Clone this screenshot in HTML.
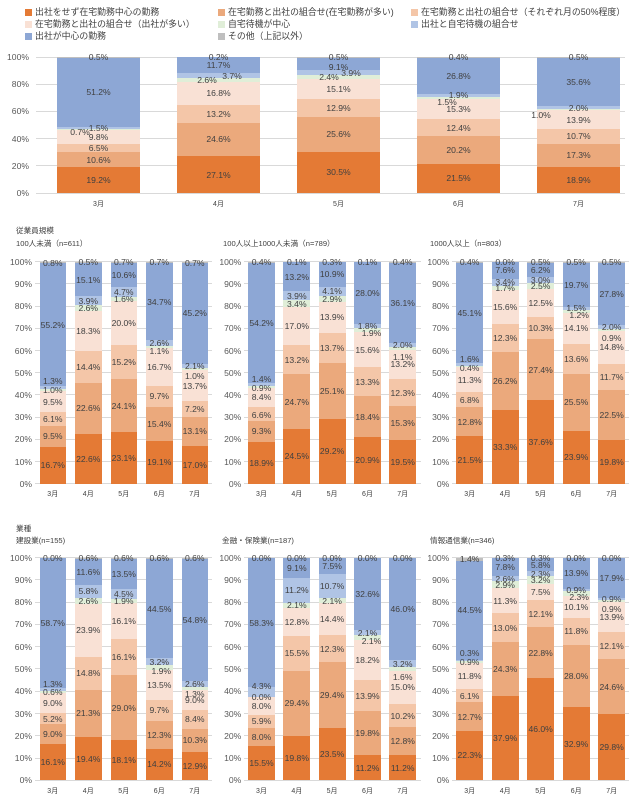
<!DOCTYPE html>
<html><head><meta charset="utf-8">
<style>
body{margin:0;width:640px;height:800px;background:#fff;position:relative;overflow:hidden;font-family:"Liberation Sans","Noto Sans CJK JP",sans-serif;color:#404040}
.a{background:#E47A35}.b{background:#EBA97C}.c{background:#F4C6A8}.d{background:#F9E1D5}
.e{background:#E0EED8}.f{background:#B0C4E5}.g{background:#8DA7D5}.h{background:#BFBFBF}
.lg{position:absolute;font-size:8.9px;line-height:12px;white-space:nowrap;color:#404040}
.lg i{position:absolute;left:-10.5px;top:2.5px;width:7px;height:7px}
.t{position:absolute;font-size:7.6px;line-height:10px;white-space:nowrap;color:#404040}
.p{position:absolute;left:0;width:640px}
.gs{position:absolute;top:0;bottom:0}
.gs div{position:absolute;left:0;right:0;height:1px;background:#D9D9D9;margin-bottom:-0.5px}
.ys{position:absolute;top:0;bottom:0}
.ys div{position:absolute;right:0;font-size:8.6px;line-height:10px;transform:translateY(50%);color:#595959;white-space:nowrap}
.bar{position:absolute;top:0;bottom:0;display:flex;flex-direction:column-reverse}
.bar>div{flex:1 1 0;min-height:0;display:flex;align-items:center;justify-content:center}
.bar span{position:relative;white-space:nowrap;font-size:8.6px;line-height:10px;height:10px;display:block;color:#404040}
.bar b{position:absolute;top:calc(100% + 6.5px);left:-10px;right:-10px;text-align:center;font-size:7px;line-height:10px;font-weight:normal;color:#404040}
</style></head><body>

<!-- Legend -->
<div class="lg" style="left:35px;top:6px"><i class="a"></i>出社をせず在宅勤務中心の勤務</div>
<div class="lg" style="left:228px;top:6px"><i class="b"></i>在宅勤務と出社の組合せ(在宅勤務が多い)</div>
<div class="lg" style="left:421px;top:6px"><i class="c"></i>在宅勤務と出社の組合せ（それぞれ月の50%程度）</div>
<div class="lg" style="left:35px;top:18px"><i class="d"></i>在宅勤務と出社の組合せ（出社が多い）</div>
<div class="lg" style="left:228px;top:18px"><i class="e"></i>自宅待機が中心</div>
<div class="lg" style="left:421px;top:18px"><i class="f"></i>出社と自宅待機の組合せ</div>
<div class="lg" style="left:35px;top:30px"><i class="g"></i>出社が中心の勤務</div>
<div class="lg" style="left:228px;top:30px"><i class="h"></i>その他（上記以外）</div>

<!-- Top chart -->
<div class="p" style="top:57px;height:136px">
 <div class="gs" style="left:36px;width:589px"><div style="bottom:0%"></div><div style="bottom:20%"></div><div style="bottom:40%"></div><div style="bottom:60%"></div><div style="bottom:80%"></div><div style="bottom:100%"></div></div>
 <div class="ys" style="left:0;width:29px"><div style="bottom:0%">0%</div><div style="bottom:20%">20%</div><div style="bottom:40%">40%</div><div style="bottom:60%">60%</div><div style="bottom:80%">80%</div><div style="bottom:100%">100%</div></div>
 <div class="bar" style="left:57px;width:83px"><b>3月</b>
  <div class="a" style="flex-grow:19.2"><span>19.2%</span></div><div class="b" style="flex-grow:10.6"><span>10.6%</span></div><div class="c" style="flex-grow:6.5"><span>6.5%</span></div><div class="d" style="flex-grow:9.8"><span>9.8%</span></div><div class="e" style="flex-grow:0.7"><span style="left:-18.5px;top:2px">0.7%</span></div><div class="f" style="flex-grow:1.5"><span>1.5%</span></div><div class="g" style="flex-grow:51.2"><span>51.2%</span></div><div class="h" style="flex-grow:0.5"><span>0.5%</span></div></div>
 <div class="bar" style="left:177px;width:83px"><b>4月</b>
  <div class="a" style="flex-grow:27.1"><span>27.1%</span></div><div class="b" style="flex-grow:24.6"><span>24.6%</span></div><div class="c" style="flex-grow:13.2"><span>13.2%</span></div><div class="d" style="flex-grow:16.8"><span>16.8%</span></div><div class="e" style="flex-grow:2.6"><span style="left:-11.5px">2.6%</span></div><div class="f" style="flex-grow:3.7"><span style="left:13.5px">3.7%</span></div><div class="g" style="flex-grow:11.7"><span>11.7%</span></div><div class="h" style="flex-grow:0.2"><span>0.2%</span></div></div>
 <div class="bar" style="left:297px;width:83px"><b>5月</b>
  <div class="a" style="flex-grow:30.5"><span>30.5%</span></div><div class="b" style="flex-grow:25.6"><span>25.6%</span></div><div class="c" style="flex-grow:12.9"><span>12.9%</span></div><div class="d" style="flex-grow:15.1"><span>15.1%</span></div><div class="e" style="flex-grow:2.4"><span style="left:-9.5px">2.4%</span></div><div class="f" style="flex-grow:3.9"><span style="left:12.5px">3.9%</span></div><div class="g" style="flex-grow:9.1"><span style="top:3px">9.1%</span></div><div class="h" style="flex-grow:0.5"><span>0.5%</span></div></div>
 <div class="bar" style="left:417px;width:83px"><b>6月</b>
  <div class="a" style="flex-grow:21.5"><span>21.5%</span></div><div class="b" style="flex-grow:20.2"><span>20.2%</span></div><div class="c" style="flex-grow:12.4"><span>12.4%</span></div><div class="d" style="flex-grow:15.3"><span>15.3%</span></div><div class="e" style="flex-grow:1.5"><span style="left:-11.5px;top:4px">1.5%</span></div><div class="f" style="flex-grow:1.9"><span>1.9%</span></div><div class="g" style="flex-grow:26.8"><span>26.8%</span></div><div class="h" style="flex-grow:0.4"><span>0.4%</span></div></div>
 <div class="bar" style="left:537px;width:83px"><b>7月</b>
  <div class="a" style="flex-grow:18.9"><span>18.9%</span></div><div class="b" style="flex-grow:17.3"><span>17.3%</span></div><div class="c" style="flex-grow:10.7"><span>10.7%</span></div><div class="d" style="flex-grow:13.9"><span>13.9%</span></div><div class="e" style="flex-grow:1.0"><span style="left:-37.5px;top:5.5px">1.0%</span></div><div class="f" style="flex-grow:2.0"><span>2.0%</span></div><div class="g" style="flex-grow:35.6"><span>35.6%</span></div><div class="h" style="flex-grow:0.5"><span>0.5%</span></div></div>
</div>

<!-- Titles -->
<div class="t" style="left:16px;top:226px">従業員規模</div>
<div class="t" style="left:16px;top:239px">100人未満（n=611）</div>
<div class="t" style="left:223px;top:239px">100人以上1000人未満（n=789）</div>
<div class="t" style="left:430px;top:239px">1000人以上（n=803）</div>
<div class="t" style="left:16px;top:524px">業種</div>
<div class="t" style="left:16px;top:536px">建設業(n=155)</div>
<div class="t" style="left:222px;top:536px">金融・保険業(n=187)</div>
<div class="t" style="left:430px;top:536px">情報通信業(n=346)</div>

<!-- Top row panels -->
<div class="p" style="top:261.7px;height:222px">
 <div class="gs" style="left:35px;width:177px"><div style="bottom:0%"></div><div style="bottom:10%"></div><div style="bottom:20%"></div><div style="bottom:30%"></div><div style="bottom:40%"></div><div style="bottom:50%"></div><div style="bottom:60%"></div><div style="bottom:70%"></div><div style="bottom:80%"></div><div style="bottom:90%"></div><div style="bottom:100%"></div></div>
 <div class="gs" style="left:244px;width:177px"><div style="bottom:0%"></div><div style="bottom:10%"></div><div style="bottom:20%"></div><div style="bottom:30%"></div><div style="bottom:40%"></div><div style="bottom:50%"></div><div style="bottom:60%"></div><div style="bottom:70%"></div><div style="bottom:80%"></div><div style="bottom:90%"></div><div style="bottom:100%"></div></div>
 <div class="gs" style="left:452px;width:177px"><div style="bottom:0%"></div><div style="bottom:10%"></div><div style="bottom:20%"></div><div style="bottom:30%"></div><div style="bottom:40%"></div><div style="bottom:50%"></div><div style="bottom:60%"></div><div style="bottom:70%"></div><div style="bottom:80%"></div><div style="bottom:90%"></div><div style="bottom:100%"></div></div>
 <div class="ys" style="left:0;width:32px"><div style="bottom:0%">0%</div><div style="bottom:10%">10%</div><div style="bottom:20%">20%</div><div style="bottom:30%">30%</div><div style="bottom:40%">40%</div><div style="bottom:50%">50%</div><div style="bottom:60%">60%</div><div style="bottom:70%">70%</div><div style="bottom:80%">80%</div><div style="bottom:90%">90%</div><div style="bottom:100%">100%</div></div>
 <div class="ys" style="left:200px;width:41.3px"><div style="bottom:0%">0%</div><div style="bottom:10%">10%</div><div style="bottom:20%">20%</div><div style="bottom:30%">30%</div><div style="bottom:40%">40%</div><div style="bottom:50%">50%</div><div style="bottom:60%">60%</div><div style="bottom:70%">70%</div><div style="bottom:80%">80%</div><div style="bottom:90%">90%</div><div style="bottom:100%">100%</div></div>
 <div class="ys" style="left:410px;width:39.3px"><div style="bottom:0%">0%</div><div style="bottom:10%">10%</div><div style="bottom:20%">20%</div><div style="bottom:30%">30%</div><div style="bottom:40%">40%</div><div style="bottom:50%">50%</div><div style="bottom:60%">60%</div><div style="bottom:70%">70%</div><div style="bottom:80%">80%</div><div style="bottom:90%">90%</div><div style="bottom:100%">100%</div></div>

 <!-- Panel A -->
 <div class="bar" style="left:39.5px;width:26.5px"><b>3月</b>
  <div class="a" style="flex-grow:16.7"><span>16.7%</span></div><div class="b" style="flex-grow:9.5"><span>9.5%</span></div><div class="c" style="flex-grow:6.1"><span>6.1%</span></div><div class="d" style="flex-grow:9.5"><span>9.5%</span></div><div class="e" style="flex-grow:1.0"><span>1.0%</span></div><div class="f" style="flex-grow:1.3"><span style="top:-6px">1.3%</span></div><div class="g" style="flex-grow:55.2"><span>55.2%</span></div><div class="h" style="flex-grow:0.8"><span>0.8%</span></div></div>
 <div class="bar" style="left:75px;width:26.5px"><b>4月</b>
  <div class="a" style="flex-grow:22.6"><span>22.6%</span></div><div class="b" style="flex-grow:22.6"><span>22.6%</span></div><div class="c" style="flex-grow:14.4"><span>14.4%</span></div><div class="d" style="flex-grow:18.3"><span>18.3%</span></div><div class="e" style="flex-grow:2.6"><span>2.6%</span></div><div class="f" style="flex-grow:3.9"><span>3.9%</span></div><div class="g" style="flex-grow:15.1"><span>15.1%</span></div><div class="h" style="flex-grow:0.5"><span>0.5%</span></div></div>
 <div class="bar" style="left:110.5px;width:26.5px"><b>5月</b>
  <div class="a" style="flex-grow:23.1"><span>23.1%</span></div><div class="b" style="flex-grow:24.1"><span>24.1%</span></div><div class="c" style="flex-grow:15.2"><span>15.2%</span></div><div class="d" style="flex-grow:20.0"><span>20.0%</span></div><div class="e" style="flex-grow:1.6"><span>1.6%</span></div><div class="f" style="flex-grow:4.7"><span>4.7%</span></div><div class="g" style="flex-grow:10.6"><span>10.6%</span></div><div class="h" style="flex-grow:0.7"><span>0.7%</span></div></div>
 <div class="bar" style="left:146px;width:26.5px"><b>6月</b>
  <div class="a" style="flex-grow:19.1"><span>19.1%</span></div><div class="b" style="flex-grow:15.4"><span>15.4%</span></div><div class="c" style="flex-grow:9.7"><span>9.7%</span></div><div class="d" style="flex-grow:16.7"><span>16.7%</span></div><div class="e" style="flex-grow:1.1"><span style="top:3.7px">1.1%</span></div><div class="f" style="flex-grow:2.6"><span>2.6%</span></div><div class="g" style="flex-grow:34.7"><span>34.7%</span></div><div class="h" style="flex-grow:0.7"><span>0.7%</span></div></div>
 <div class="bar" style="left:181.5px;width:26.5px"><b>7月</b>
  <div class="a" style="flex-grow:17.0"><span>17.0%</span></div><div class="b" style="flex-grow:13.1"><span>13.1%</span></div><div class="c" style="flex-grow:7.2"><span>7.2%</span></div><div class="d" style="flex-grow:13.7"><span>13.7%</span></div><div class="e" style="flex-grow:1.0"><span style="top:7px">1.0%</span></div><div class="f" style="flex-grow:2.1"><span>2.1%</span></div><div class="g" style="flex-grow:45.2"><span>45.2%</span></div><div class="h" style="flex-grow:0.7"><span>0.7%</span></div></div>

 <!-- Panel B -->
 <div class="bar" style="left:248px;width:27px"><b>3月</b>
  <div class="a" style="flex-grow:18.9"><span>18.9%</span></div><div class="b" style="flex-grow:9.3"><span>9.3%</span></div><div class="c" style="flex-grow:6.6"><span style="top:1.5px">6.6%</span></div><div class="d" style="flex-grow:8.4"><span>8.4%</span></div><div class="e" style="flex-grow:0.9"><span style="top:1.5px">0.9%</span></div><div class="f" style="flex-grow:1.4"><span style="top:-5px">1.4%</span></div><div class="g" style="flex-grow:54.2"><span>54.2%</span></div><div class="h" style="flex-grow:0.4"><span>0.4%</span></div></div>
 <div class="bar" style="left:283.3px;width:27px"><b>4月</b>
  <div class="a" style="flex-grow:24.5"><span>24.5%</span></div><div class="b" style="flex-grow:24.7"><span>24.7%</span></div><div class="c" style="flex-grow:13.2"><span>13.2%</span></div><div class="d" style="flex-grow:17.0"><span>17.0%</span></div><div class="e" style="flex-grow:3.4"><span>3.4%</span></div><div class="f" style="flex-grow:3.9"><span>3.9%</span></div><div class="g" style="flex-grow:13.2"><span>13.2%</span></div><div class="h" style="flex-grow:0.1"><span>0.1%</span></div></div>
 <div class="bar" style="left:318.6px;width:27px"><b>5月</b>
  <div class="a" style="flex-grow:29.2"><span>29.2%</span></div><div class="b" style="flex-grow:25.1"><span>25.1%</span></div><div class="c" style="flex-grow:13.7"><span>13.7%</span></div><div class="d" style="flex-grow:13.9"><span>13.9%</span></div><div class="e" style="flex-grow:2.9"><span>2.9%</span></div><div class="f" style="flex-grow:4.1"><span>4.1%</span></div><div class="g" style="flex-grow:10.9"><span>10.9%</span></div><div class="h" style="flex-grow:0.3"><span>0.3%</span></div></div>
 <div class="bar" style="left:354px;width:27px"><b>6月</b>
  <div class="a" style="flex-grow:20.9"><span>20.9%</span></div><div class="b" style="flex-grow:18.4"><span>18.4%</span></div><div class="c" style="flex-grow:13.3"><span>13.3%</span></div><div class="d" style="flex-grow:15.6"><span>15.6%</span></div><div class="e" style="flex-grow:1.9"><span style="left:4px;top:3px">1.9%</span></div><div class="f" style="flex-grow:1.8"><span>1.8%</span></div><div class="g" style="flex-grow:28.0"><span>28.0%</span></div><div class="h" style="flex-grow:0.1"><span>0.1%</span></div></div>
 <div class="bar" style="left:389.2px;width:27px"><b>7月</b>
  <div class="a" style="flex-grow:19.5"><span>19.5%</span></div><div class="b" style="flex-grow:15.3"><span>15.3%</span></div><div class="c" style="flex-grow:12.3"><span>12.3%</span></div><div class="d" style="flex-grow:13.2"><span>13.2%</span></div><div class="e" style="flex-grow:1.1"><span style="top:8.7px">1.1%</span></div><div class="f" style="flex-grow:2.0"><span>2.0%</span></div><div class="g" style="flex-grow:36.1"><span>36.1%</span></div><div class="h" style="flex-grow:0.4"><span>0.4%</span></div></div>

 <!-- Panel C -->
 <div class="bar" style="left:456px;width:27.3px"><b>3月</b>
  <div class="a" style="flex-grow:21.5"><span>21.5%</span></div><div class="b" style="flex-grow:12.8"><span>12.8%</span></div><div class="c" style="flex-grow:6.8"><span>6.8%</span></div><div class="d" style="flex-grow:11.3"><span>11.3%</span></div><div class="e" style="flex-grow:0.4"><span style="top:1.4px">0.4%</span></div><div class="f" style="flex-grow:1.6"><span style="top:-5.7px">1.6%</span></div><div class="g" style="flex-grow:45.1"><span>45.1%</span></div><div class="h" style="flex-grow:0.4"><span>0.4%</span></div></div>
 <div class="bar" style="left:491.5px;width:27.3px"><b>4月</b>
  <div class="a" style="flex-grow:33.3"><span>33.3%</span></div><div class="b" style="flex-grow:26.2"><span>26.2%</span></div><div class="c" style="flex-grow:12.3"><span>12.3%</span></div><div class="d" style="flex-grow:15.6"><span>15.6%</span></div><div class="e" style="flex-grow:1.7"><span>1.7%</span></div><div class="f" style="flex-grow:3.4"><span>3.4%</span></div><div class="g" style="flex-grow:7.6"><span>7.6%</span></div><div class="h" style="flex-grow:0"><span>0.0%</span></div></div>
 <div class="bar" style="left:527px;width:27.3px"><b>5月</b>
  <div class="a" style="flex-grow:37.6"><span>37.6%</span></div><div class="b" style="flex-grow:27.4"><span>27.4%</span></div><div class="c" style="flex-grow:10.3"><span>10.3%</span></div><div class="d" style="flex-grow:12.5"><span>12.5%</span></div><div class="e" style="flex-grow:2.5"><span>2.5%</span></div><div class="f" style="flex-grow:3.0"><span>3.0%</span></div><div class="g" style="flex-grow:6.2"><span>6.2%</span></div><div class="h" style="flex-grow:0.5"><span>0.5%</span></div></div>
 <div class="bar" style="left:562.5px;width:27.3px"><b>6月</b>
  <div class="a" style="flex-grow:23.9"><span>23.9%</span></div><div class="b" style="flex-grow:25.5"><span>25.5%</span></div><div class="c" style="flex-grow:13.6"><span>13.6%</span></div><div class="d" style="flex-grow:14.1"><span>14.1%</span></div><div class="e" style="flex-grow:1.2"><span style="left:3px;top:3.8px">1.2%</span></div><div class="f" style="flex-grow:1.5"><span>1.5%</span></div><div class="g" style="flex-grow:19.7"><span>19.7%</span></div><div class="h" style="flex-grow:0.5"><span>0.5%</span></div></div>
 <div class="bar" style="left:598px;width:27.3px"><b>7月</b>
  <div class="a" style="flex-grow:19.8"><span>19.8%</span></div><div class="b" style="flex-grow:22.5"><span>22.5%</span></div><div class="c" style="flex-grow:11.7"><span>11.7%</span></div><div class="d" style="flex-grow:14.8"><span>14.8%</span></div><div class="e" style="flex-grow:0.9"><span style="top:8px">0.9%</span></div><div class="f" style="flex-grow:2.0"><span>2.0%</span></div><div class="g" style="flex-grow:27.8"><span>27.8%</span></div><div class="h" style="flex-grow:0.5"><span>0.5%</span></div></div>
</div>

<!-- Bottom row panels -->
<div class="p" style="top:557.7px;height:222.6px">
 <div class="gs" style="left:35px;width:177px"><div style="bottom:0%"></div><div style="bottom:10%"></div><div style="bottom:20%"></div><div style="bottom:30%"></div><div style="bottom:40%"></div><div style="bottom:50%"></div><div style="bottom:60%"></div><div style="bottom:70%"></div><div style="bottom:80%"></div><div style="bottom:90%"></div><div style="bottom:100%"></div></div>
 <div class="gs" style="left:244px;width:177px"><div style="bottom:0%"></div><div style="bottom:10%"></div><div style="bottom:20%"></div><div style="bottom:30%"></div><div style="bottom:40%"></div><div style="bottom:50%"></div><div style="bottom:60%"></div><div style="bottom:70%"></div><div style="bottom:80%"></div><div style="bottom:90%"></div><div style="bottom:100%"></div></div>
 <div class="gs" style="left:452px;width:177px"><div style="bottom:0%"></div><div style="bottom:10%"></div><div style="bottom:20%"></div><div style="bottom:30%"></div><div style="bottom:40%"></div><div style="bottom:50%"></div><div style="bottom:60%"></div><div style="bottom:70%"></div><div style="bottom:80%"></div><div style="bottom:90%"></div><div style="bottom:100%"></div></div>
 <div class="ys" style="left:0;width:32px"><div style="bottom:0%">0%</div><div style="bottom:10%">10%</div><div style="bottom:20%">20%</div><div style="bottom:30%">30%</div><div style="bottom:40%">40%</div><div style="bottom:50%">50%</div><div style="bottom:60%">60%</div><div style="bottom:70%">70%</div><div style="bottom:80%">80%</div><div style="bottom:90%">90%</div><div style="bottom:100%">100%</div></div>
 <div class="ys" style="left:200px;width:41.3px"><div style="bottom:0%">0%</div><div style="bottom:10%">10%</div><div style="bottom:20%">20%</div><div style="bottom:30%">30%</div><div style="bottom:40%">40%</div><div style="bottom:50%">50%</div><div style="bottom:60%">60%</div><div style="bottom:70%">70%</div><div style="bottom:80%">80%</div><div style="bottom:90%">90%</div><div style="bottom:100%">100%</div></div>
 <div class="ys" style="left:410px;width:39.3px"><div style="bottom:0%">0%</div><div style="bottom:10%">10%</div><div style="bottom:20%">20%</div><div style="bottom:30%">30%</div><div style="bottom:40%">40%</div><div style="bottom:50%">50%</div><div style="bottom:60%">60%</div><div style="bottom:70%">70%</div><div style="bottom:80%">80%</div><div style="bottom:90%">90%</div><div style="bottom:100%">100%</div></div>

 <!-- Panel D 建設業 -->
 <div class="bar" style="left:39.5px;width:26.5px"><b>3月</b>
  <div class="a" style="flex-grow:16.1"><span>16.1%</span></div><div class="b" style="flex-grow:9.0"><span>9.0%</span></div><div class="c" style="flex-grow:5.2"><span>5.2%</span></div><div class="d" style="flex-grow:9.0"><span>9.0%</span></div><div class="e" style="flex-grow:0.6"><span>0.6%</span></div><div class="f" style="flex-grow:1.3"><span style="top:-5.7px">1.3%</span></div><div class="g" style="flex-grow:58.7"><span>58.7%</span></div><div class="h" style="flex-grow:0"><span>0.0%</span></div></div>
 <div class="bar" style="left:75px;width:26.5px"><b>4月</b>
  <div class="a" style="flex-grow:19.4"><span>19.4%</span></div><div class="b" style="flex-grow:21.3"><span>21.3%</span></div><div class="c" style="flex-grow:14.8"><span>14.8%</span></div><div class="d" style="flex-grow:23.9"><span>23.9%</span></div><div class="e" style="flex-grow:2.6"><span>2.6%</span></div><div class="f" style="flex-grow:5.8"><span>5.8%</span></div><div class="g" style="flex-grow:11.6"><span>11.6%</span></div><div class="h" style="flex-grow:0.6"><span>0.6%</span></div></div>
 <div class="bar" style="left:110.5px;width:26.5px"><b>5月</b>
  <div class="a" style="flex-grow:18.1"><span>18.1%</span></div><div class="b" style="flex-grow:29.0"><span>29.0%</span></div><div class="c" style="flex-grow:16.1"><span>16.1%</span></div><div class="d" style="flex-grow:16.1"><span>16.1%</span></div><div class="e" style="flex-grow:1.9"><span>1.9%</span></div><div class="f" style="flex-grow:4.5"><span>4.5%</span></div><div class="g" style="flex-grow:13.5"><span>13.5%</span></div><div class="h" style="flex-grow:0.6"><span>0.6%</span></div></div>
 <div class="bar" style="left:146px;width:26.5px"><b>6月</b>
  <div class="a" style="flex-grow:14.2"><span>14.2%</span></div><div class="b" style="flex-grow:12.3"><span>12.3%</span></div><div class="c" style="flex-grow:9.7"><span>9.7%</span></div><div class="d" style="flex-grow:13.5"><span>13.5%</span></div><div class="e" style="flex-grow:1.9"><span style="left:2px;top:3.5px">1.9%</span></div><div class="f" style="flex-grow:3.2"><span>3.2%</span></div><div class="g" style="flex-grow:44.5"><span>44.5%</span></div><div class="h" style="flex-grow:0.6"><span>0.6%</span></div></div>
 <div class="bar" style="left:181.5px;width:26.5px"><b>7月</b>
  <div class="a" style="flex-grow:12.9"><span>12.9%</span></div><div class="b" style="flex-grow:10.3"><span>10.3%</span></div><div class="c" style="flex-grow:8.4"><span>8.4%</span></div><div class="d" style="flex-grow:9.0"><span>9.0%</span></div><div class="e" style="flex-grow:1.3"><span style="top:5.6px">1.3%</span></div><div class="f" style="flex-grow:2.6"><span>2.6%</span></div><div class="g" style="flex-grow:54.8"><span>54.8%</span></div><div class="h" style="flex-grow:0.6"><span>0.6%</span></div></div>

 <!-- Panel E 金融・保険業 -->
 <div class="bar" style="left:248px;width:27px"><b>3月</b>
  <div class="a" style="flex-grow:15.5"><span>15.5%</span></div><div class="b" style="flex-grow:8.0"><span>8.0%</span></div><div class="c" style="flex-grow:5.9"><span>5.9%</span></div><div class="d" style="flex-grow:8.0"><span>8.0%</span></div><div class="e" style="flex-grow:0"><span>0.0%</span></div><div class="f" style="flex-grow:4.3"><span style="top:-6.5px">4.3%</span></div><div class="g" style="flex-grow:58.3"><span>58.3%</span></div><div class="h" style="flex-grow:0"><span>0.0%</span></div></div>
 <div class="bar" style="left:283.3px;width:27px"><b>4月</b>
  <div class="a" style="flex-grow:19.8"><span>19.8%</span></div><div class="b" style="flex-grow:29.4"><span>29.4%</span></div><div class="c" style="flex-grow:15.5"><span>15.5%</span></div><div class="d" style="flex-grow:12.8"><span>12.8%</span></div><div class="e" style="flex-grow:2.1"><span>2.1%</span></div><div class="f" style="flex-grow:11.2"><span>11.2%</span></div><div class="g" style="flex-grow:9.1"><span>9.1%</span></div><div class="h" style="flex-grow:0"><span>0.0%</span></div></div>
 <div class="bar" style="left:318.6px;width:27px"><b>5月</b>
  <div class="a" style="flex-grow:23.5"><span>23.5%</span></div><div class="b" style="flex-grow:29.4"><span>29.4%</span></div><div class="c" style="flex-grow:12.3"><span>12.3%</span></div><div class="d" style="flex-grow:14.4"><span>14.4%</span></div><div class="e" style="flex-grow:2.1"><span>2.1%</span></div><div class="f" style="flex-grow:10.7"><span>10.7%</span></div><div class="g" style="flex-grow:7.5"><span>7.5%</span></div><div class="h" style="flex-grow:0"><span>0.0%</span></div></div>
 <div class="bar" style="left:354px;width:27px"><b>6月</b>
  <div class="a" style="flex-grow:11.2"><span>11.2%</span></div><div class="b" style="flex-grow:19.8"><span>19.8%</span></div><div class="c" style="flex-grow:13.9"><span>13.9%</span></div><div class="d" style="flex-grow:18.2"><span>18.2%</span></div><div class="e" style="flex-grow:2.1"><span style="left:4px;top:3.6px">2.1%</span></div><div class="f" style="flex-grow:2.1"><span>2.1%</span></div><div class="g" style="flex-grow:32.6"><span>32.6%</span></div><div class="h" style="flex-grow:0"><span>0.0%</span></div></div>
 <div class="bar" style="left:389.2px;width:27px"><b>7月</b>
  <div class="a" style="flex-grow:11.2"><span>11.2%</span></div><div class="b" style="flex-grow:12.8"><span>12.8%</span></div><div class="c" style="flex-grow:10.2"><span>10.2%</span></div><div class="d" style="flex-grow:15.0"><span>15.0%</span></div><div class="e" style="flex-grow:1.6"><span style="top:8.3px">1.6%</span></div><div class="f" style="flex-grow:3.2"><span>3.2%</span></div><div class="g" style="flex-grow:46.0"><span>46.0%</span></div><div class="h" style="flex-grow:0"><span>0.0%</span></div></div>

 <!-- Panel F 情報通信業 -->
 <div class="bar" style="left:456px;width:27.3px"><b>3月</b>
  <div class="a" style="flex-grow:22.3"><span>22.3%</span></div><div class="b" style="flex-grow:12.7"><span>12.7%</span></div><div class="c" style="flex-grow:6.1"><span>6.1%</span></div><div class="d" style="flex-grow:11.8"><span>11.8%</span></div><div class="e" style="flex-grow:0.9"><span>0.9%</span></div><div class="f" style="flex-grow:0.3"><span style="top:-7px">0.3%</span></div><div class="g" style="flex-grow:44.5"><span>44.5%</span></div><div class="h" style="flex-grow:1.4"><span>1.4%</span></div></div>
 <div class="bar" style="left:491.5px;width:27.3px"><b>4月</b>
  <div class="a" style="flex-grow:37.9"><span>37.9%</span></div><div class="b" style="flex-grow:24.3"><span>24.3%</span></div><div class="c" style="flex-grow:13.0"><span>13.0%</span></div><div class="d" style="flex-grow:11.3"><span>11.3%</span></div><div class="e" style="flex-grow:2.9"><span>2.9%</span></div><div class="f" style="flex-grow:2.6"><span>2.6%</span></div><div class="g" style="flex-grow:7.8"><span>7.8%</span></div><div class="h" style="flex-grow:0.3"><span>0.3%</span></div></div>
 <div class="bar" style="left:527px;width:27.3px"><b>5月</b>
  <div class="a" style="flex-grow:46.0"><span>46.0%</span></div><div class="b" style="flex-grow:22.8"><span>22.8%</span></div><div class="c" style="flex-grow:12.1"><span>12.1%</span></div><div class="d" style="flex-grow:7.5"><span>7.5%</span></div><div class="e" style="flex-grow:3.2"><span>3.2%</span></div><div class="f" style="flex-grow:2.3"><span>2.3%</span></div><div class="g" style="flex-grow:5.8"><span>5.8%</span></div><div class="h" style="flex-grow:0.3"><span>0.3%</span></div></div>
 <div class="bar" style="left:562.5px;width:27.3px"><b>6月</b>
  <div class="a" style="flex-grow:32.9"><span>32.9%</span></div><div class="b" style="flex-grow:28.0"><span>28.0%</span></div><div class="c" style="flex-grow:11.8"><span>11.8%</span></div><div class="d" style="flex-grow:10.1"><span>10.1%</span></div><div class="e" style="flex-grow:2.3"><span style="left:3px;top:3.4px">2.3%</span></div><div class="f" style="flex-grow:0.9"><span>0.9%</span></div><div class="g" style="flex-grow:13.9"><span>13.9%</span></div><div class="h" style="flex-grow:0"><span>0.0%</span></div></div>
 <div class="bar" style="left:598px;width:27.3px"><b>7月</b>
  <div class="a" style="flex-grow:29.8"><span>29.8%</span></div><div class="b" style="flex-grow:24.6"><span>24.6%</span></div><div class="c" style="flex-grow:12.1"><span>12.1%</span></div><div class="d" style="flex-grow:13.9"><span>13.9%</span></div><div class="e" style="flex-grow:0.9"><span style="top:8.8px">0.9%</span></div><div class="f" style="flex-grow:0.9"><span>0.9%</span></div><div class="g" style="flex-grow:17.9"><span>17.9%</span></div><div class="h" style="flex-grow:0"><span>0.0%</span></div></div>
</div>

</body></html>
